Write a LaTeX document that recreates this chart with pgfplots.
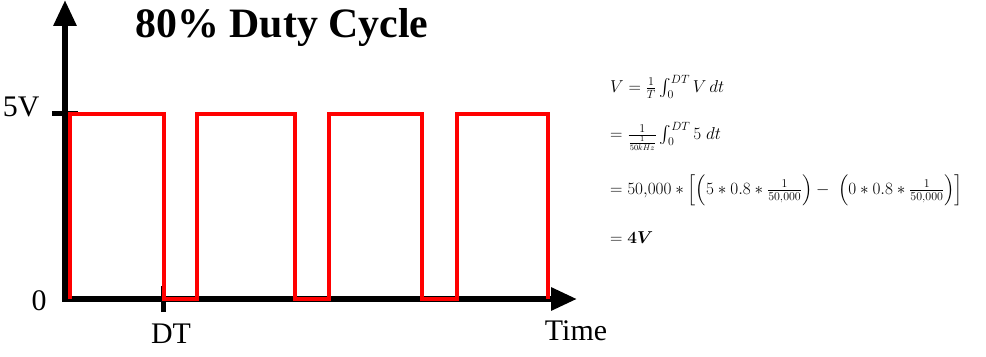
\documentclass[border=0pt]{standalone}
\usepackage{amsmath}
\usepackage{pgfplots}
\pgfplotsset{compat=1.18}
\usepackage{fontspec}
\setmainfont{Liberation Serif}
\usetikzlibrary{arrows.meta}
\begin{document}
\begin{tikzpicture}[x=1bp,y=1bp]
\path[use as bounding box] (0,0) rectangle (986,356);
\begin{axis}[
  at={(65bp,57bp)}, anchor=south west, scale only axis,
  width=512bp, height=299bp,
  xmin=0, xmax=87.15, ymin=0, ymax=8.06,
  axis lines=left,
  axis line style={line width=6bp, black, line cap=rect},
  x axis line style={-{Triangle[length=26bp,width=22bp]}},
  y axis line style={-{Triangle[length=26bp,width=22bp]}},
  xtick={16.85}, xticklabels={DT},
  ytick={5}, yticklabels={5V},
  tick align=center, major tick length=26bp,
  tick style={line width=5bp, black},
  ticklabel style={font=\fontsize{30}{30}\selectfont},
  xticklabel style={xshift=7bp, yshift=-8bp},
  yticklabel style={xshift=-9bp, yshift=7bp},
  clip=false,
]
\addplot[red, line width=4bp, line join=miter] coordinates {
  (0.85,0) (0.85,5) (16.85,5) (16.85,0)
  (22.47,0) (22.47,5) (39.15,5) (39.15,0)
  (44.94,0) (44.94,5) (60.77,5) (60.77,0)
  (66.72,0) (66.72,5) (82.21,5) (82.21,0)
};
\end{axis}
\node[font=\fontsize{30}{30}\selectfont] at (39,55) {0};
\node[font=\bfseries\fontsize{42}{42}\selectfont] at (282,329) {80\% Duty Cycle};
\node[font=\fontsize{30}{30}\selectfont] at (576,25) {Time};
\begin{scope}[every node/.style={anchor=west, inner sep=0pt, font=\fontsize{17}{20}\selectfont}]
\node at (610,269) {$V=\frac{1}{T}\int_0^{DT} V\,dt$};
\node at (610,220) {$=\frac{1}{\frac{1}{50kHz}}\int_0^{DT} 5\;dt$};
\node at (610,166) {$=50{,}000\ast\Bigl[\Bigl(5\ast0.8\ast\frac{1}{50{,}000}\Bigr)-\;\Bigl(0\ast0.8\ast\frac{1}{50{,}000}\Bigr)\Bigr]$};
\node at (610,118) {$=\boldsymbol{4V}$};
\end{scope}
\end{tikzpicture}
\end{document}
